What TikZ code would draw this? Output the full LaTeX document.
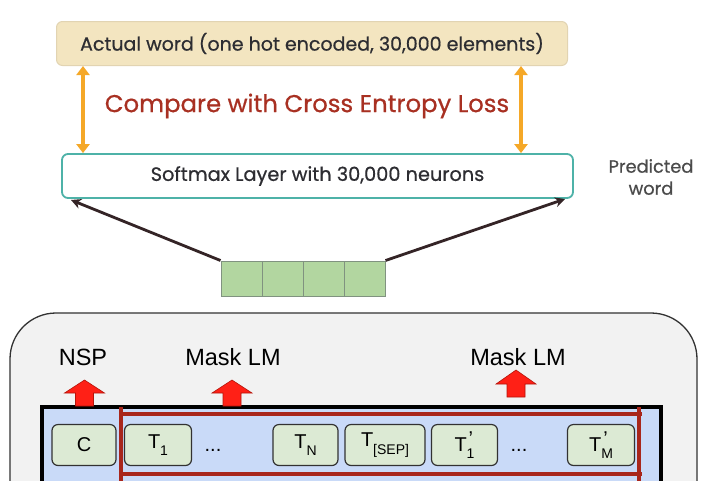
\documentclass[tikz,border=0pt]{standalone}
\usepackage{fontspec}
\setmainfont{Poppins}
\newfontface\popm{Poppins}[FakeBold=0.6]
\newfontfamily\arialf{Liberation Sans}
\usetikzlibrary{arrows.meta}
\definecolor{beigefill}{RGB}{243,229,192}
\definecolor{beigeborder}{RGB}{226,212,178}
\definecolor{tealborder}{RGB}{78,178,168}
\definecolor{orangearr}{RGB}{245,168,40}
\definecolor{redtext}{RGB}{168,48,34}
\definecolor{darkarr}{RGB}{52,36,38}
\definecolor{textgray}{RGB}{45,45,50}
\definecolor{predgray}{RGB}{75,75,75}
\definecolor{cellfill}{RGB}{178,214,160}
\definecolor{cellborder}{RGB}{128,146,128}
\definecolor{panelfill}{RGB}{242,242,242}
\definecolor{panelborder}{RGB}{50,50,50}
\definecolor{bluefill}{RGB}{201,218,248}
\definecolor{tokfill}{RGB}{220,234,212}
\definecolor{redline}{RGB}{168,38,28}
\definecolor{arrowred}{RGB}{255,32,22}
\definecolor{arrowredborder}{RGB}{180,20,10}
\newcommand\tsub[1]{T\raisebox{-0.7ex}{\fontsize{14}{14}\selectfont #1}}
\newcommand\tsubp[1]{T\rlap{\hspace{2pt}\raisebox{0.6ex}{\fontsize{20}{20}\selectfont ’}}\raisebox{-0.7ex}{\fontsize{14}{14}\selectfont #1}}
\begin{document}
\begin{tikzpicture}[x=1pt,y=-1pt,
  actualbox/.style={draw=beigeborder, fill=beigefill, line width=1pt, rounded corners=6pt,
    text=textgray, font=\popm\fontsize{19}{22}\selectfont},
  softbox/.style={draw=tealborder, fill=white, line width=1.8pt, rounded corners=6pt,
    text=textgray, font=\popm\fontsize{19.3}{22}\selectfont},
  orangedbl/.style={draw=orangearr, line width=3.4pt, {Triangle[width=13pt,length=9pt]}-{Triangle[width=13pt,length=9pt]}},
  darkarrow/.style={draw=darkarr, line width=2.8pt, -{Stealth[width=10pt,length=10pt]}},
  cellbox/.style={draw=cellborder, fill=cellfill, line width=1pt, minimum width=41pt, minimum height=35pt, inner sep=0pt},
  panel/.style={draw=panelborder, fill=panelfill, line width=1.3pt, rounded corners=46pt},
  bluebox/.style={draw=black, fill=bluefill, line width=3.2pt},
  redbar/.style={draw=redline, line width=3.8pt},
  tok/.style={draw=panelborder, fill=tokfill, line width=1.2pt, rounded corners=6pt,
    minimum height=41pt, inner sep=0pt, font=\arialf\fontsize{20}{20}\selectfont},
  dotsnode/.style={inner sep=0pt, font=\arialf\fontsize{20}{20}\selectfont},
  tasklabel/.style={inner sep=0pt, font=\arialf\fontsize{23.5}{24}\selectfont},
  blockarrow/.style={fill=arrowred, draw=arrowredborder, line width=0.6pt, line join=miter}
]
\useasboundingbox (0,0) rectangle (708,480);
\clip (0,0) rectangle (708,480);
\fill[white] (0,0) rectangle (708,480);

% top part
\node[actualbox, minimum width=511pt, minimum height=44pt] (actual) at (312,43.5)
  {Actual word (one hot encoded, 30,000 elements)};
\node[softbox, minimum width=511pt, minimum height=44pt] (soft) at (317.5,176)
  {Softmax Layer with 30,000 neurons};
\node[align=center, text=predgray, font=\popm\fontsize{17.8}{22}\selectfont, inner sep=0pt] (pred) at (651,177)
  {Predicted\\word};
\node[text=redtext, font=\popm\fontsize{24.3}{26}\selectfont, inner sep=0pt] (cmp) at (307,106)
  {Compare with Cross Entropy Loss};

\coordinate (xl) at (83,0);
\coordinate (xr) at (521,0);
\draw[orangedbl] (actual.south -| xl) -- (soft.north -| xl);
\draw[orangedbl] (actual.south -| xr) -- (soft.north -| xr);

% embedding cells
\node[cellbox] (c1) at (241.5,278.5) {};
\node[cellbox] (c2) at (282.5,278.5) {};
\node[cellbox] (c3) at (323.5,278.5) {};
\node[cellbox] (c4) at (364.5,278.5) {};

\coordinate (tipl) at (71,200);
\coordinate (tipr) at (565,199);
\draw[darkarrow] (c1.north west) -- (tipl);
\draw[darkarrow] (c4.north east) -- (tipr);

% bottom panel
\draw[panel] (10,313) rectangle (697,580);
\draw[bluebox] (42,407) rectangle (661,540);

% red block arrows
\draw[blockarrow, shift={(84.5,406)}] (-9,0) -- (-9,-13) -- (-20,-13) -- (0,-26) -- (20,-13) -- (9,-13) -- (9,0) -- cycle;
\draw[blockarrow, shift={(232,406)}] (-9,0) -- (-9,-13) -- (-20,-13) -- (0,-26) -- (20,-13) -- (9,-13) -- (9,0) -- cycle;
\draw[blockarrow, shift={(516,397)}] (-9,0) -- (-9,-13) -- (-20,-13) -- (0,-27) -- (20,-13) -- (9,-13) -- (9,0) -- cycle;

\node[tasklabel] (nsp) at (83,357) {NSP};
\node[tasklabel] (mlm1) at (233,357) {Mask LM};
\node[tasklabel] (mlm2) at (518,357) {Mask LM};

% red outline
\draw[redbar] (121,407) -- (121,540);
\draw[redbar] (639,407) -- (639,540);
\draw[redbar] (119,414) -- (642,414);
\draw[redbar] (119,474) -- (642,474);

% tokens
\node[tok, minimum width=64pt] (tc) at (84,445) {C};
\node[tok, minimum width=67pt] (t1) at (158,445) {\tsub{1}};
\node[dotsnode] (d1) at (213,450) {...};
\node[tok, minimum width=65pt] (tn) at (305.5,445) {\tsub{N}};
\node[tok, minimum width=80pt] (tsep) at (385,445) {\tsub{[SEP]}};
\node[tok, minimum width=66pt] (t1p) at (464.5,445) {\tsubp{1}};
\node[dotsnode] (d2) at (519,450) {...};
\node[tok, minimum width=67pt] (tmp) at (601,445) {\tsubp{M}};
\end{tikzpicture}
\end{document}
